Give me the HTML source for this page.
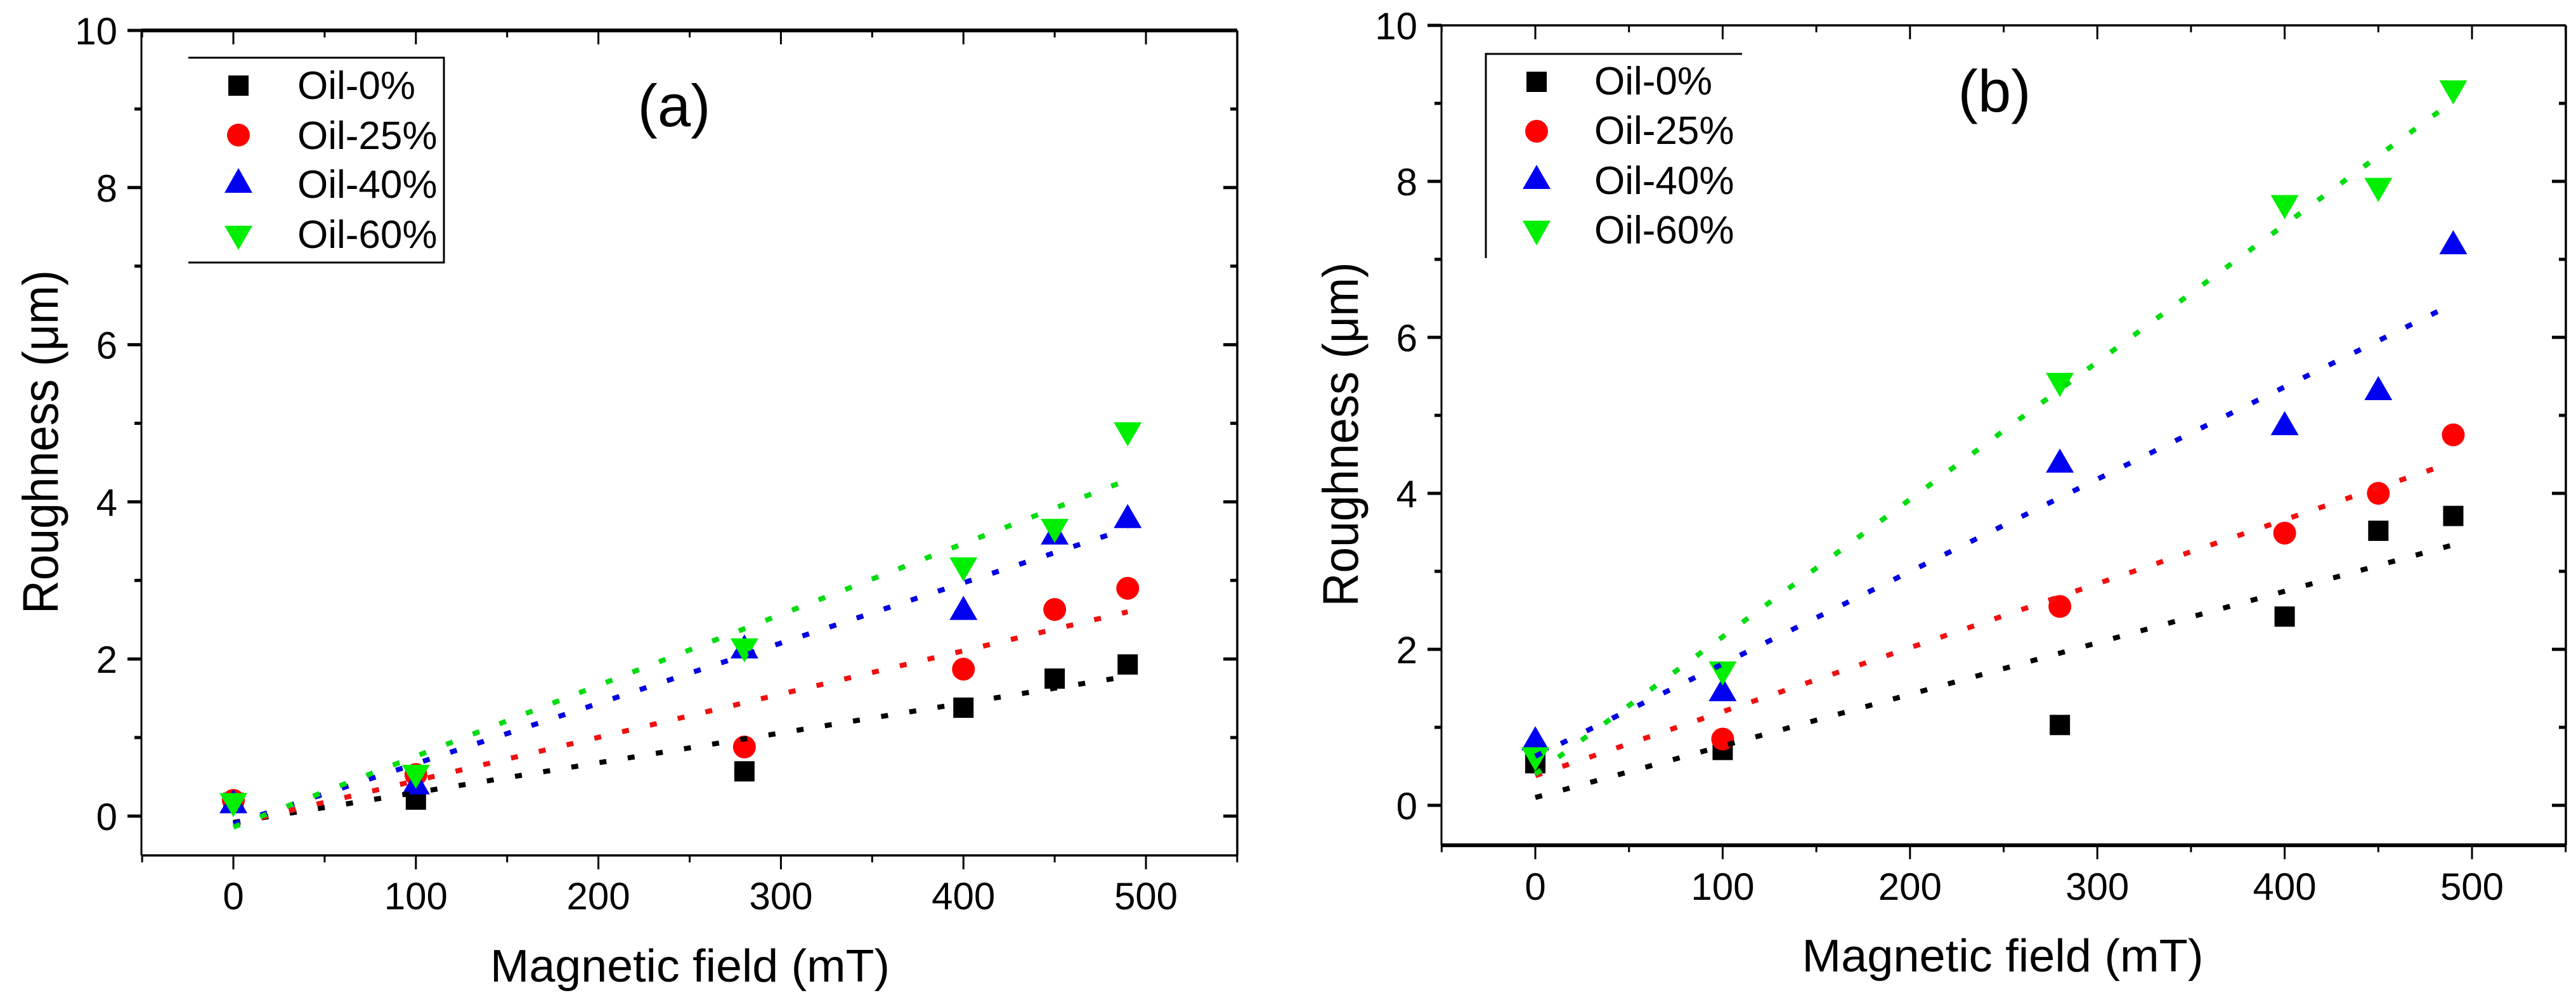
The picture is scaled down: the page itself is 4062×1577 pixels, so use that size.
<!DOCTYPE html>
<html>
<head>
<meta charset="utf-8">
<title>Roughness vs magnetic field</title>
<style>
html,body{margin:0;padding:0;background:#fff;}
svg{display:block;}
text{font-family:"Liberation Sans",Arial,sans-serif;fill:#000;}
</style>
</head>
<body>
<svg id="figure" xmlns="http://www.w3.org/2000/svg" width="4062" height="1577" viewBox="0 0 4062 1577">
  <rect width="4062" height="1577" fill="#fff"/>
  <g id="panel-a"></g>
  <g id="panel-b"></g>

  <text x="1088" y="1548" font-size="72" text-anchor="middle" textLength="630" lengthAdjust="spacingAndGlyphs">Magnetic field (mT)</text>
  <text transform="translate(91,697) rotate(-90) scale(1,1.1)" font-size="72" text-anchor="middle" textLength="542" lengthAdjust="spacingAndGlyphs">Roughness (μm)</text>
  <text x="1063" y="199" font-size="94" text-anchor="middle">(a)</text>

  <text x="3158" y="1532" font-size="72" text-anchor="middle" textLength="633" lengthAdjust="spacingAndGlyphs">Magnetic field (mT)</text>
  <text transform="translate(2141,685) rotate(-90) scale(1,1.1)" font-size="72" text-anchor="middle" textLength="543" lengthAdjust="spacingAndGlyphs">Roughness (μm)</text>
  <text x="3145" y="176" font-size="94" text-anchor="middle">(b)</text>

  <!-- legend a -->
  <g>
    <path d="M297 91H700V414H297" fill="none" stroke="#000" stroke-width="3"/>
    <rect x="360" y="119" width="32" height="32" fill="#000"/>
    <circle cx="376" cy="213" r="18" fill="#f00"/>
    <polygon points="376,265 398,304 354,304" fill="#0000f0"/>
    <polygon points="354,356 398,356 376,394" fill="#00ee00"/>
    <text x="469" y="156" font-size="62">Oil-0%</text>
    <text x="469" y="235" font-size="62">Oil-25%</text>
    <text x="469" y="312" font-size="62">Oil-40%</text>
    <text x="469" y="391" font-size="62">Oil-60%</text>
  </g>
  <!-- legend b -->
  <g>
    <path d="M2343 407V85H2747" fill="none" stroke="#000" stroke-width="3"/>
    <rect x="2407" y="113" width="32" height="32" fill="#000"/>
    <circle cx="2423" cy="207" r="18" fill="#f00"/>
    <polygon points="2423,260 2445,298 2401,298" fill="#0000f0"/>
    <polygon points="2401,348 2445,348 2423,387" fill="#00ee00"/>
    <text x="2514" y="149" font-size="62">Oil-0%</text>
    <text x="2514" y="227" font-size="62">Oil-25%</text>
    <text x="2514" y="306" font-size="62">Oil-40%</text>
    <text x="2514" y="384" font-size="62">Oil-60%</text>
  </g>
</svg>
<script>
// Shared categories and tick labels
const magneticField = [0, 100, 280, 400, 450, 490];
const xTickLabels = [0, 100, 200, 300, 400, 500];
const xMinorTicks = [-50, 50, 150, 250, 350, 450, 550];
const yTickLabels = [0, 2, 4, 6, 8, 10];
const yMinorTicks = [1, 3, 5, 7, 9];
const fitField = [0, 490];

// Panel (a) values, roughness in micrometres
const aOil0 = [0.17, 0.21, 0.57, 1.38, 1.75, 1.93];
const aOil25 = [0.2, 0.53, 0.88, 1.87, 2.63, 2.9];
const aOil40 = [0.19, 0.43, 2.16, 2.65, 3.61, 3.82];
const aOil60 = [0.14, 0.5, 2.11, 3.14, 3.63, 4.86];
// Panel (a) linear fit values at fitField
const aFit0 = [-0.08, 1.78];
const aFit25 = [-0.1, 2.6];
const aFit40 = [-0.1, 3.66];
const aFit60 = [-0.14, 4.28];

// Panel (b) values, roughness in micrometres; null = no marker visible in the picture
const bOil0 = [0.54, 0.71, 1.03, 2.42, 3.52, 3.71];
const bOil25 = [null, 0.85, 2.55, 3.49, 4.0, 4.75];
const bOil40 = [0.86, 1.49, 4.42, 4.9, 5.35, 7.22];
const bOil60 = [0.59, 1.69, 5.39, 7.67, 7.89, 9.14];
// Panel (b) linear fit values at fitField
const bFit0 = [0.1, 3.34];
const bFit25 = [0.38, 4.4];
const bFit40 = [0.63, 6.43];
const bFit60 = [0.4, 9.03];

const NS = 'http://www.w3.org/2000/svg';
function make(tag, attrs, parent) {
  const el = document.createElementNS(NS, tag);
  for (const k in attrs) el.setAttribute(k, attrs[k]);
  parent.appendChild(el);
  return el;
}

const seriesKinds = ['square', 'circle', 'up', 'down'];
const seriesColors = ['#000', '#f00', '#0000f0', '#00ee00'];
const fitColors = ['#000', '#f01010', '#0000e0', '#00dc10'];
const seriesNames = ['oil-0', 'oil-25', 'oil-40', 'oil-60'];

function drawPanel(root, geo, series, fits) {
  const sx = v => geo.x0 + geo.kx * v;
  const sy = v => geo.y0 - geo.ky * v;

  // frame
  const frame = [
    [geo.left, geo.top, geo.right, geo.top, geo.topW],
    [geo.left, geo.bottom, geo.right, geo.bottom, geo.bottomW],
    [geo.left, geo.top, geo.left, geo.bottom, 3],
    [geo.right, geo.top, geo.right, geo.bottom, 3.5]
  ];
  frame.forEach(f => {
    const l = make('line', {x1: f[0], y1: f[1], x2: f[2], y2: f[3], stroke: '#000', 'stroke-width': f[4]}, root);
    
    
  });

  // x ticks and labels
  xTickLabels.forEach(v => {
    const x = sx(v);
    const t1 = make('line', {x1: x, y1: geo.bottom, x2: x, y2: geo.bottom + 22, stroke: '#000', 'stroke-width': 3}, root);
    
    
    const t2 = make('line', {x1: x, y1: geo.top, x2: x, y2: geo.top + 22, stroke: '#000', 'stroke-width': 3}, root);
    
    
    const lab = make('text', {x: x, y: geo.xLabelY, 'font-size': 60, 'text-anchor': 'middle'}, root);
    
    
    lab.textContent = v;
  });
  xMinorTicks.forEach(v => {
    const x = sx(v);
    const t1 = make('line', {x1: x, y1: geo.bottom, x2: x, y2: geo.bottom + 11, stroke: '#000', 'stroke-width': 3}, root);
    
    
    const t2 = make('line', {x1: x, y1: geo.top, x2: x, y2: geo.top + 11, stroke: '#000', 'stroke-width': 3}, root);
    
    
  });

  // y ticks and labels
  yTickLabels.forEach(v => {
    const y = sy(v);
    const t1 = make('line', {x1: geo.left - 22, y1: y, x2: geo.left, y2: y, stroke: '#000', 'stroke-width': 5}, root);
    
    
    if (v !== 10) {
      const t2 = make('line', {x1: geo.right - 22, y1: y, x2: geo.right, y2: y, stroke: '#000', 'stroke-width': 5}, root);
      
      
    }
    const lab = make('text', {x: geo.left - 38, y: y + 22, 'font-size': 60, 'text-anchor': 'end'}, root);
    
    
    lab.textContent = v;
  });
  yMinorTicks.forEach(v => {
    const y = sy(v);
    const t1 = make('line', {x1: geo.left - 11, y1: y, x2: geo.left, y2: y, stroke: '#000', 'stroke-width': 5}, root);
    
    
    const t2 = make('line', {x1: geo.right - 11, y1: y, x2: geo.right, y2: y, stroke: '#000', 'stroke-width': 5}, root);
    
    
  });

  // markers
  series.forEach((values, s) => {
    values.forEach((v, i) => {
      if (v === null) return;
      const cx = sx(magneticField[i]);
      const cy = sy(v);
      let m;
      if (seriesKinds[s] === 'square') {
        m = make('rect', {x: cx - 16, y: cy - 16, width: 32, height: 32, fill: seriesColors[s]}, root);
      } else if (seriesKinds[s] === 'circle') {
        m = make('circle', {cx: cx, cy: cy, r: 18, fill: seriesColors[s]}, root);
      } else if (seriesKinds[s] === 'up') {
        m = make('polygon', {points: cx + ',' + (cy - 19) + ' ' + (cx + 22) + ',' + (cy + 19) + ' ' + (cx - 22) + ',' + (cy + 19), fill: seriesColors[s]}, root);
      } else {
        m = make('polygon', {points: (cx - 22) + ',' + (cy - 19) + ' ' + (cx + 22) + ',' + (cy - 19) + ' ' + cx + ',' + (cy + 19), fill: seriesColors[s]}, root);
      }
      
      
    });
  });

  // dotted fit lines
  fits.forEach((fit, s) => {
    const l = make('line', {
      x1: sx(fitField[0]), y1: sy(fit[0]), x2: sx(fitField[1]), y2: sy(fit[1]),
      stroke: fitColors[s], 'stroke-width': 8, 'stroke-dasharray': '11 34'
    }, root);
    
    
  });
}

drawPanel(document.getElementById('panel-a'),
  {x0: 368, kx: 2.878, y0: 1287, ky: 123.9, left: 223, right: 1951, top: 48, bottom: 1349, topW: 6, bottomW: 3.5, xLabelY: 1434},
  [aOil0, aOil25, aOil40, aOil60], [aFit0, aFit25, aFit40, aFit60]);

drawPanel(document.getElementById('panel-b'),
  {x0: 2421, kx: 2.954, y0: 1270, ky: 123, left: 2273, right: 4046, top: 40, bottom: 1333, topW: 3.5, bottomW: 6, xLabelY: 1419},
  [bOil0, bOil25, bOil40, bOil60], [bFit0, bFit25, bFit40, bFit60]);
</script>
</body>
</html>
